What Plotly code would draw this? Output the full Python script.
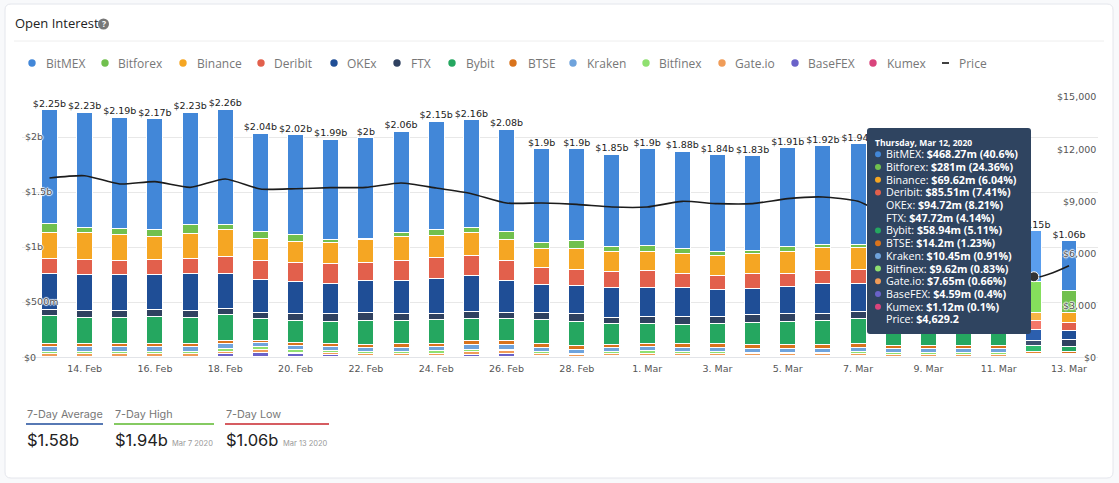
import plotly.graph_objects as go

W = 1119
H = 483

days = ["13. Feb", "14. Feb", "15. Feb", "16. Feb", "17. Feb", "18. Feb", "19. Feb", "20. Feb",
        "21. Feb", "22. Feb", "23. Feb", "24. Feb", "25. Feb", "26. Feb", "27. Feb", "28. Feb",
        "29. Feb", "1. Mar", "2. Mar", "3. Mar", "4. Mar", "5. Mar", "6. Mar", "7. Mar",
        "8. Mar", "9. Mar", "10. Mar", "11. Mar", "12. Mar", "13. Mar"]

# all exchange values in $m
bitmex = [1036, 1051, 1015, 1009, 1018, 1045, 888, 909, 909, 915, 918, 988, 982, 930, 861, 836,
          839, 885, 882, 882, 864, 900, 903, 918, 832, 715, 690, 665, 468.27, 450]
bitforex = [76, 42, 48, 61, 76, 48, 61, 61, 30, 15, 36, 52, 48, 76, 55, 76,
            45, 52, 39, 36, 21, 45, 21, 21, 60, 100, 130, 180, 281, 200]
binance = [236, 245, 236, 212, 233, 242, 203, 191, 194, 203, 218, 200, 209, 188, 164, 191,
           182, 179, 182, 179, 188, 197, 212, 206, 190, 170, 165, 160, 69.62, 94]
deribit = [136, 136, 133, 130, 136, 152, 176, 173, 176, 170, 182, 188, 182, 182, 155, 142,
           142, 148, 127, 124, 130, 121, 115, 121, 120, 110, 105, 100, 85.51, 73]
okex = [327, 333, 327, 324, 336, 318, 294, 288, 279, 288, 303, 318, 324, 291, 258, 258,
        273, 267, 267, 248, 242, 242, 273, 258, 260, 240, 230, 225, 94.72, 79]
ftx = [58, 58, 58, 61, 58, 61, 55, 70, 70, 73, 64, 55, 64, 58, 61, 73,
       61, 61, 70, 61, 70, 76, 70, 67, 70, 65, 65, 60, 47.72, 61]
bybit = [251, 236, 236, 242, 236, 236, 203, 197, 203, 221, 203, 224, 203, 197, 224, 215,
         191, 182, 179, 188, 203, 212, 218, 227, 210, 195, 190, 185, 58.94, 48]
btse = [30, 30, 30, 30, 30, 27, 18, 30, 24, 21, 36, 24, 39, 36, 30, 39,
        27, 30, 30, 30, 30, 30, 30, 30, 27, 27, 27, 27, 14.2, 16]
kraken = [45, 45, 45, 45, 45, 45, 36, 36, 36, 39, 39, 36, 45, 42, 39, 36,
          36, 39, 39, 39, 36, 36, 36, 39, 36, 36, 36, 36, 10.45, 12]
bitfinex = [21, 21, 15, 15, 15, 24, 24, 21, 18, 15, 15, 24, 18, 15, 15, 9,
            18, 21, 15, 15, 15, 15, 15, 18, 18, 18, 18, 18, 9.62, 10]
gateio = [27, 24, 30, 30, 30, 15, 30, 15, 21, 18, 21, 21, 21, 21, 21, 15,
          18, 21, 21, 21, 18, 18, 18, 21, 18, 15, 15, 15, 7.65, 8]
basefex = [2, 3, 3, 3, 3, 33, 39, 27, 18, 15, 12, 12, 24, 33, 12, 3,
           9, 12, 12, 12, 9, 9, 9, 9, 6, 6, 6, 6, 4.59, 4]
kumex = [2, 3, 3, 3, 3, 3, 3, 3, 3, 3, 3, 3, 3, 3, 3, 3,
         3, 3, 3, 3, 3, 3, 3, 3, 3, 3, 3, 3, 1.12, 2]

totals_b = [2.25, 2.23, 2.19, 2.17, 2.23, 2.26, 2.04, 2.02, 1.99, 2, 2.06, 2.15, 2.16, 2.08, 1.9, 1.9,
            1.85, 1.9, 1.88, 1.84, 1.83, 1.91, 1.92, 1.94, 1.85, 1.7, 1.68, 1.68, 1.15, 1.06]

price = [10327, 10461, 9981, 10115, 9788, 10269, 9692, 9711, 9769, 9788, 10038, 9750, 9423, 8885, 8885, 8808,
         8654, 8654, 8981, 8846, 8846, 9135, 9231, 8981, 8040, 7920, 7890, 7940, 4629.2, 5268]

names = ["BitMEX", "Bitforex", "Binance", "Deribit", "OKEx", "FTX", "Bybit",
         "BTSE", "Kraken", "Bitfinex", "Gate.io", "BaseFEX", "Kumex"]
series = [bitmex, bitforex, binance, deribit, okex, ftx, bybit, btse, kraken, bitfinex, gateio, basefex, kumex]
colors = ["#4287d8", "#71c04e", "#f5a623", "#e2604c", "#1f4e96", "#2f4160", "#25a760",
          "#d9731c", "#6fa3dc", "#8fe070", "#f09c58", "#6a62c9", "#d9447c"]
hover_colors = ["#5a9eee", "#85df5c", "#f7b545", "#f4776a", "#2c5fae", "#3c5070", "#30bb6e",
                "#e88530", "#85b8ee", "#a4ee88", "#f5ad70", "#7d76dd", "#e85c90"]

left_ticks = [0, 500, 1000, 1500, 2000]
left_labels = ["$0", "$500m", "$1b", "$1.5b", "$2b"]
right_ticks = [0, 3000, 6000, 9000, 12000, 15000]
right_labels = ["$0", "$3,000", "$6,000", "$9,000", "$12,000", "$15,000"]

stats = [("7-Day Average", "$1.58b", "", "#1f4d9b", 26, 103),
         ("7-Day High", "$1.94b", "Mar 7 2020", "#5cb82e", 114, 214),
         ("7-Day Low", "$1.06b", "Mar 13 2020", "#c9262c", 225, 329)]

# x pixel of legend dot and label
legend_pos = [(32, 45), (105, 117), (183, 196), (261, 273), (334, 346), (397, 410), (452, 465),
              (513, 527), (573, 586), (646, 658), (722, 734), (795, 807), (873, 886)]

HOVER = days.index("12. Mar")
FONT = "Open Sans"
AXIS_FONT = "DejaVu Sans"
halo = "1px 0 1px #fff, -1px 0 1px #fff, 0 1px 1px #fff, 0 -1px 1px #fff"


def px(x):
    return x / W


def py(y):
    return 1 - y / H


def round_rect(x0, y0, x1, y1, r):
    return (f"M {px(x0 + r)} {py(y0)} L {px(x1 - r)} {py(y0)} Q {px(x1)} {py(y0)} {px(x1)} {py(y0 + r)} "
            f"L {px(x1)} {py(y1 - r)} Q {px(x1)} {py(y1)} {px(x1 - r)} {py(y1)} "
            f"L {px(x0 + r)} {py(y1)} Q {px(x0)} {py(y1)} {px(x0)} {py(y1 - r)} "
            f"L {px(x0)} {py(y0 + r)} Q {px(x0)} {py(y0)} {px(x0 + r)} {py(y0)} Z")


def label(x, y, text, size, color, family=FONT, anchor="left"):
    fig.add_annotation(x=px(x), y=py(y), xref="paper", yref="paper", text=text, showarrow=False,
                       xanchor=anchor, yanchor="middle", borderpad=0,
                       font=dict(family=family, size=size, color=color))


def paper_shape(**kw):
    fig.add_shape(xref="paper", yref="paper", **kw)


fig = go.Figure()

# bottom of the stack is the last exchange
for name, values, color, hover in reversed(list(zip(names, series, colors, hover_colors))):
    bar_colors = [hover if i == HOVER else color for i in range(len(days))]
    fig.add_trace(go.Bar(x=days, y=values, name=name, width=0.455,
                         marker=dict(color=bar_colors, line=dict(color="#ffffff", width=1))))

fig.add_trace(go.Scatter(x=days, y=[t * 1000 for t in totals_b], mode="text",
                         text=[f"${t:g}b" for t in totals_b], textposition="top center",
                         textfont=dict(family=AXIS_FONT, size=9.5, color="#222222")))

fig.add_trace(go.Scatter(x=days, y=price, yaxis="y2", mode="lines",
                         line=dict(color="#1c1c1c", width=1.6, shape="spline", smoothing=0.6)))
fig.add_trace(go.Scatter(x=[days[HOVER]], y=[price[HOVER]], yaxis="y2", mode="markers",
                         marker=dict(color="#333333", size=10, line=dict(color="#ffffff", width=1))))

fig.update_layout(
    width=W, height=H, margin=dict(l=0, r=0, t=0, b=0), showlegend=False, barmode="stack",
    paper_bgcolor="#f8f9fb", plot_bgcolor="rgba(0,0,0,0)",
    xaxis=dict(domain=[22 / W, 1098 / W], type="category", range=[-0.782, 29.825],
               tickmode="array", tickvals=days[1::2], ticktext=days[1::2], ticks="",
               ticklabelstandoff=3, showgrid=False, showline=True, linecolor="#e2e4e8", linewidth=1,
               tickfont=dict(family=AXIS_FONT, size=9.5, color="#555555")),
    yaxis=dict(domain=[py(357), py(97)], range=[0, 2363.6], tickmode="array", tickvals=left_ticks,
               ticktext=left_labels, ticklabelposition="inside", ticks="", showline=False,
               zeroline=False, gridcolor="#e8e8e8", gridwidth=1,
               tickfont=dict(family=AXIS_FONT, size=9.5, color="#555555", shadow=halo)),
    yaxis2=dict(overlaying="y", side="right", anchor="x", range=[0, 15000], showticklabels=False,
                ticks="", showgrid=False, zeroline=False, showline=False),
)

# card and header
paper_shape(type="path", path=round_rect(5, 4, 1113, 478, 6), fillcolor="#ffffff",
            line=dict(color="#e4e6ec", width=1), layer="below")
paper_shape(type="line", x0=px(14), x1=px(1104), y0=py(41), y1=py(41),
            line=dict(color="#eeeeee", width=1), layer="below")
label(14, 23, "Open Interest", 13, "#222222")
paper_shape(type="circle", x0=px(98), x1=px(109), y0=py(18.5), y1=py(29.5),
            fillcolor="#777777", line=dict(width=0))
label(103.5, 24, "<b>?</b>", 8.5, "#ffffff", anchor="center")

# plotly drops the left $0 next to the x axis, and inside labels on y2 go missing, so these are placed by hand
label(23, 357, left_labels[0], 9.5, "#555555", AXIS_FONT)
for tick, text in zip(right_ticks, right_labels):
    fig.add_annotation(x=px(1097), y=tick, xref="paper", yref="y2", text=text, showarrow=False,
                       xanchor="right", yanchor="middle", borderpad=0,
                       font=dict(family=AXIS_FONT, size=9.5, color="#555555", shadow=halo))

# legend row
for (dot_x, text_x), name, color in zip(legend_pos, names, colors):
    paper_shape(type="circle", x0=px(dot_x - 3.7), x1=px(dot_x + 3.7), y0=py(59.3), y1=py(66.7),
                fillcolor=color, line=dict(width=0))
    label(text_x, 63, name, 12, "#777777")
paper_shape(type="line", x0=px(942), x1=px(949), y0=py(63), y1=py(63), line=dict(color="#111111", width=1.6))
label(958, 63, "Price", 12, "#777777")

# 7-day stats
for title, value, when, color, x0, x1 in stats:
    label(x0, 414, title, 10.8, "#777777", "Inter")
    paper_shape(type="line", x0=px(x0), x1=px(x1), y0=py(424), y1=py(424), line=dict(color=color, width=1.3))
    label(x0, 440, value, 16.5, "#222222", "Inter")
    if when:
        label(x0 + 57, 443, when, 7.5, "#999999", "Inter")

# tooltip for 12 Mar
paper_shape(type="path", path=round_rect(867, 128, 1031, 334, 3), fillcolor="#2f4460",
            line=dict(width=0), layer="above")
label(874, 142, "<b>Thursday, Mar 12, 2020</b>", 8.5, "#ffffff")
tip_total = sum(s[HOVER] for s in series)
row_y = 154.3
for name, values, color in zip(names, series, colors):
    v = values[HOVER]
    pct = round(v / tip_total * 100, 2)
    if name not in ("OKEx", "FTX"):
        paper_shape(type="circle", x0=px(875), x1=px(881), y0=py(row_y - 3), y1=py(row_y + 3),
                    fillcolor=color, line=dict(width=0), layer="above")
    label(885, row_y, f"{name}: <b>${v:g}m ({pct:g}%)</b>", 10.7, "#ffffff")
    row_y += 12.7
label(885, row_y, f"Price: <b>${price[HOVER]:,}</b>", 10.7, "#ffffff")

fig.write_html("out.html", config={"displayModeBar": False},
               post_script="document.body.style.margin = '0';")
